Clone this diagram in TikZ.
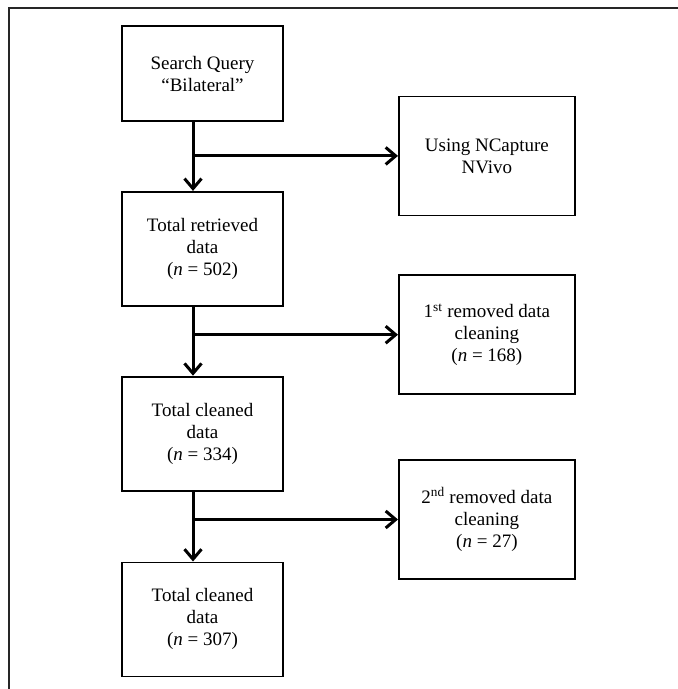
\documentclass[tikz,border=0pt]{standalone}
\usepackage{fontspec}
\setmainfont{Liberation Serif}
\usetikzlibrary{positioning,arrows.meta}
\begin{document}
\begin{tikzpicture}
	[x=1pt,y=1pt,
	box/.style={draw,line width=1.8pt,align=center,minimum width=161pt,font=\fontsize{19}{22}\selectfont},
	mainbox/.style={box,minimum height=114pt},
	sidebox/.style={box,minimum width=176pt,minimum height=119pt},
	flow/.style={line width=3pt,-{Straight Barb[length=10pt,width=17pt,line width=3pt]}},
	frame/.style={line width=1.5pt,black!85}
	]
	\useasboundingbox (0,0) rectangle (678,-689);
	\draw[frame] (9,-689) -- (9,-8) -- (678,-8);
	\node[box,minimum height=95pt] (query) at (202.5,-73.5) {Search Query\\“Bilateral”};
	\node[mainbox,below=69pt of query] (retrieved) {Total retrieved\\data\\(\textit{n} = 502)};
	\node[mainbox,below=69pt of retrieved] (cleaned) {Total cleaned\\data\\(\textit{n} = 334)};
	\node[mainbox,below=70pt of cleaned] (final) {Total cleaned\\data\\(\textit{n} = 307)};
	\coordinate[below left=34pt and 9.5pt of query.south] (split1);
	\coordinate[below left=28pt and 9.5pt of retrieved.south] (split2);
	\coordinate[below left=28pt and 9.5pt of cleaned.south] (split3);
	\node[sidebox,right=205pt of split1] (ncapture) {Using NCapture\\NVivo};
	\node[sidebox,right=205pt of split2] (removed1) {1\textsuperscript{st} removed data\\cleaning\\(\textit{n} = 168)};
	\node[sidebox,right=205pt of split3] (removed2) {2\textsuperscript{nd} removed data\\cleaning\\(\textit{n} = 27)};
	\draw[flow] (query.south -| split1) -- (retrieved.north -| split1);
	\draw[flow] (retrieved.south -| split2) -- (cleaned.north -| split2);
	\draw[flow] (cleaned.south -| split3) -- (final.north -| split3);
	\draw[flow] (split1) -- (ncapture);
	\draw[flow] (split2) -- (removed1);
	\draw[flow] (split3) -- (removed2);
\end{tikzpicture}
\end{document}
